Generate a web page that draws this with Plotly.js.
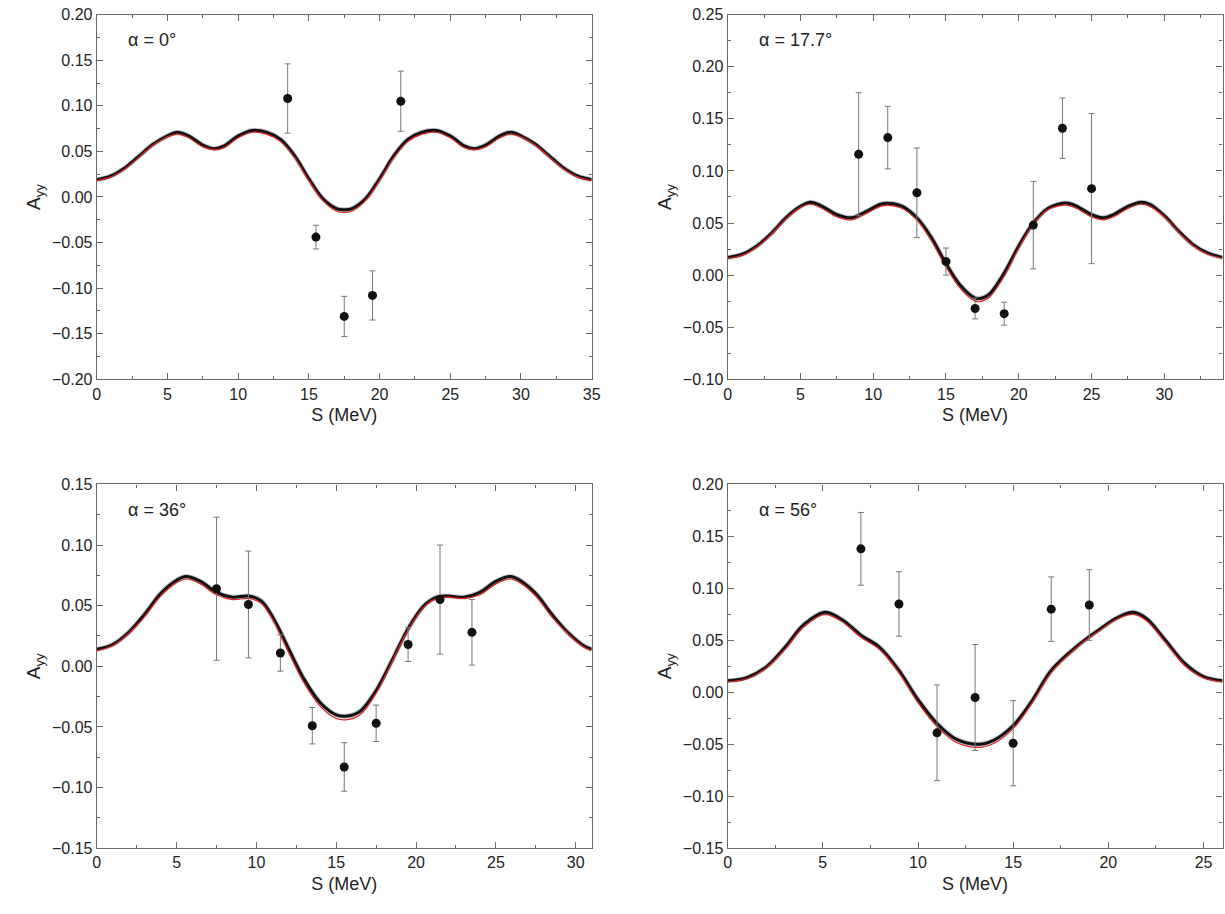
<!DOCTYPE html>
<html>
<head>
<meta charset="utf-8">
<script src="https://cdn.plot.ly/plotly-3.0.1.min.js"></script>
<style>body{margin:0}#plot{width:1225px;height:914px}</style>
</head>
<body>
<div id="plot"></div>
<script>
// alpha = 0
var c1x = [0, 1, 2, 3, 4, 5, 5.7, 6.5, 7.5, 8.3, 9, 10, 11, 12, 13, 14, 15, 16, 17, 17.5, 18, 19, 20, 21, 22, 23, 24, 25, 26, 26.7, 27.5, 28.5, 29.3, 30, 31, 32, 33, 34, 35];
var c1y = [0.019, 0.023, 0.032, 0.045, 0.058, 0.067, 0.071, 0.067, 0.057, 0.053, 0.056, 0.067, 0.073, 0.071, 0.063, 0.045, 0.020, -0.002, -0.013, -0.014, -0.013, -0.002, 0.020, 0.045, 0.063, 0.071, 0.073, 0.067, 0.056, 0.053, 0.057, 0.067, 0.071, 0.067, 0.058, 0.045, 0.032, 0.023, 0.019];
var c1r = [0.018, 0.022, 0.031, 0.044, 0.057, 0.066, 0.069, 0.065, 0.055, 0.052, 0.054, 0.065, 0.071, 0.069, 0.061, 0.043, 0.018, -0.004, -0.016, -0.017, -0.016, -0.004, 0.018, 0.043, 0.061, 0.069, 0.071, 0.065, 0.054, 0.052, 0.055, 0.065, 0.069, 0.066, 0.057, 0.044, 0.031, 0.022, 0.018];
var d1x = [13.5, 15.5, 17.5, 19.5, 21.5];
var d1y = [0.108, -0.044, -0.131, -0.108, 0.105];
var d1e = [0.038, 0.013, 0.022, 0.027, 0.033];

// alpha = 17.7
var c2x = [0, 1, 2, 3, 4, 5, 5.7, 6.5, 7.5, 8.5, 9.5, 10.5, 11, 12, 13, 14, 15, 16, 17, 17.5, 18, 19, 20, 21, 22, 23, 23.4, 24, 25, 25.8, 26.5, 27.5, 28.4, 29, 30, 31, 32, 33, 34];
var c2y = [0.017, 0.020, 0.028, 0.040, 0.055, 0.066, 0.070, 0.066, 0.058, 0.055, 0.061, 0.068, 0.069, 0.066, 0.055, 0.036, 0.011, -0.010, -0.022, -0.022, -0.018, 0.002, 0.028, 0.050, 0.064, 0.069, 0.069, 0.066, 0.058, 0.055, 0.058, 0.066, 0.070, 0.068, 0.057, 0.042, 0.029, 0.021, 0.017];
var c2r = [0.016, 0.019, 0.027, 0.039, 0.054, 0.065, 0.068, 0.064, 0.056, 0.053, 0.059, 0.066, 0.067, 0.064, 0.053, 0.033, 0.008, -0.013, -0.025, -0.025, -0.021, -0.001, 0.026, 0.049, 0.063, 0.067, 0.067, 0.064, 0.056, 0.053, 0.056, 0.064, 0.068, 0.066, 0.056, 0.041, 0.028, 0.020, 0.016];
var d2x = [9, 11, 13, 15, 17, 19, 21, 23, 25];
var d2y = [0.116, 0.132, 0.079, 0.013, -0.032, -0.037, 0.048, 0.141, 0.083];
var d2e = [0.059, 0.030, 0.043, 0.013, 0.010, 0.011, 0.042, 0.029, 0.072];

// alpha = 36
var c3x = [0, 1, 2, 3, 4, 5, 5.6, 6.5, 7.5, 8.5, 9.5, 10.3, 11, 12, 13, 14, 15, 15.7, 16.5, 17.5, 18.5, 19.5, 20.5, 21.3, 22, 23, 24, 25, 25.9, 26.5, 27.5, 28.5, 29.5, 30.5, 31];
var c3y = [0.014, 0.018, 0.028, 0.043, 0.060, 0.071, 0.074, 0.070, 0.061, 0.057, 0.058, 0.054, 0.041, 0.015, -0.011, -0.030, -0.040, -0.041, -0.037, -0.020, 0.005, 0.031, 0.050, 0.057, 0.058, 0.057, 0.061, 0.070, 0.074, 0.071, 0.060, 0.043, 0.028, 0.017, 0.014];
var c3r = [0.013, 0.017, 0.027, 0.041, 0.058, 0.069, 0.072, 0.068, 0.059, 0.055, 0.056, 0.052, 0.039, 0.012, -0.014, -0.033, -0.043, -0.044, -0.040, -0.022, 0.004, 0.030, 0.049, 0.056, 0.057, 0.056, 0.059, 0.068, 0.072, 0.069, 0.058, 0.041, 0.027, 0.016, 0.013];
var d3x = [7.5, 9.5, 11.5, 13.5, 15.5, 17.5, 19.5, 21.5, 23.5];
var d3y = [0.064, 0.051, 0.011, -0.049, -0.083, -0.047, 0.018, 0.055, 0.028];
var d3e = [0.059, 0.044, 0.015, 0.015, 0.020, 0.015, 0.014, 0.045, 0.027];

// alpha = 56
var c4x = [0, 1, 2, 3, 4, 5.1, 6, 7, 8, 9, 10, 11, 12, 13.2, 14, 15, 16, 17, 18.4, 19.5, 20.5, 21.3, 22, 23, 24, 25, 26];
var c4y = [0.011, 0.014, 0.024, 0.043, 0.065, 0.077, 0.070, 0.055, 0.043, 0.021, -0.007, -0.030, -0.045, -0.050, -0.046, -0.032, -0.008, 0.021, 0.045, 0.060, 0.072, 0.077, 0.071, 0.050, 0.028, 0.015, 0.011];
var c4r = [0.010, 0.013, 0.023, 0.041, 0.063, 0.075, 0.068, 0.053, 0.041, 0.019, -0.010, -0.033, -0.048, -0.053, -0.049, -0.035, -0.010, 0.019, 0.044, 0.059, 0.071, 0.075, 0.069, 0.048, 0.026, 0.014, 0.010];
var d4x = [7, 9, 11, 13, 15, 17, 19];
var d4y = [0.138, 0.085, -0.039, -0.005, -0.049, 0.080, 0.084];
var d4e = [0.035, 0.031, 0.046, 0.051, 0.041, 0.031, 0.034];

var panels = [
  {cx: c1x, cy: c1y, cr: c1r, dx: d1x, dy: d1y, de: d1e, xr: [0, 35], yr: [-0.2, 0.2], lab: 'α = 0°'},
  {cx: c2x, cy: c2y, cr: c2r, dx: d2x, dy: d2y, de: d2e, xr: [0, 34], yr: [-0.1, 0.25], lab: 'α = 17.7°'},
  {cx: c3x, cy: c3y, cr: c3r, dx: d3x, dy: d3y, de: d3e, xr: [0, 31], yr: [-0.15, 0.15], lab: 'α = 36°'},
  {cx: c4x, cy: c4y, cr: c4r, dx: d4x, dy: d4y, de: d4e, xr: [0, 26], yr: [-0.15, 0.2], lab: 'α = 56°'}
];
var xd = [[0.079, 0.483], [0.594, 0.998], [0.079, 0.483], [0.594, 0.998]];
var yd = [[0.585, 0.984], [0.585, 0.984], [0.072, 0.470], [0.072, 0.470]];

var data = [];
var layout = {
  width: 1225, height: 914,
  margin: {l: 0, r: 0, t: 0, b: 0},
  paper_bgcolor: 'white', plot_bgcolor: 'white',
  showlegend: false,
  font: {family: 'Liberation Sans, Arial, sans-serif', size: 16, color: '#222'},
  annotations: []
};

panels.forEach(function (p, i) {
  var n = i + 1, xa = 'x' + n, ya = 'y' + n;
  data.push({x: p.cx, y: p.cy, xaxis: xa, yaxis: ya, mode: 'lines', line: {color: '#c4c8ce', width: 5, shape: 'spline'}, hoverinfo: 'none'});
  data.push({x: p.cx, y: p.cy, xaxis: xa, yaxis: ya, mode: 'lines', line: {color: '#111', width: 3, shape: 'spline'}, hoverinfo: 'none'});
  data.push({x: p.cx, y: p.cr, xaxis: xa, yaxis: ya, mode: 'lines', line: {color: '#e02020', width: 1.2, shape: 'spline'}, hoverinfo: 'none'});
  data.push({x: p.dx, y: p.dy, xaxis: xa, yaxis: ya, mode: 'markers',
    marker: {color: '#111', size: 9},
    error_y: {type: 'data', array: p.de, visible: true, color: '#777', thickness: 1, width: 3}});
  layout['xaxis' + n] = {
    domain: xd[i], range: p.xr, anchor: ya, showgrid: false, zeroline: false,
    showline: true, mirror: 'ticks', linecolor: '#666', linewidth: 1.2,
    ticks: 'inside', ticklen: 6, tickcolor: '#666', dtick: 5,
    minor: {ticks: 'inside', ticklen: 3, tickcolor: '#666', dtick: 2.5},
    tickfont: {size: 16}, title: {text: 'S (MeV)', font: {size: 18}, standoff: 6}
  };
  layout['yaxis' + n] = {
    domain: yd[i], range: p.yr, anchor: xa, showgrid: false, zeroline: false,
    showline: true, mirror: 'ticks', linecolor: '#666', linewidth: 1.2,
    ticks: 'inside', ticklen: 6, tickcolor: '#666', dtick: 0.05, tickformat: '.2f',
    minor: {ticks: 'inside', ticklen: 3, tickcolor: '#666', dtick: 0.025},
    tickfont: {size: 16}, title: {text: 'A<sub>yy</sub>', font: {size: 19}, standoff: 6}
  };
  layout.annotations.push({text: p.lab, xref: xa + ' domain', yref: ya + ' domain', x: 0.06, y: 0.93,
    xanchor: 'left', yanchor: 'middle', showarrow: false, font: {size: 18, color: '#222'}});
});

Plotly.newPlot('plot', data, layout, {displayModeBar: false});
</script>
</body>
</html>
